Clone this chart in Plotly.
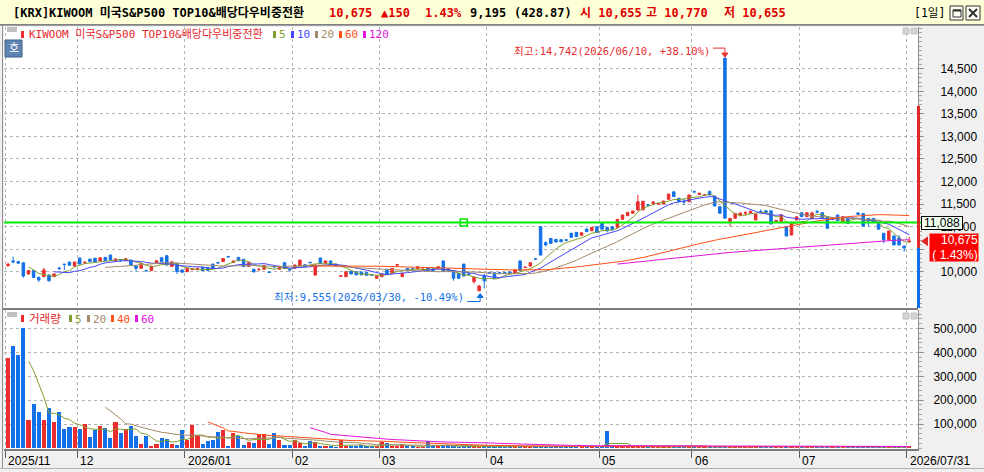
import pandas as pd
import plotly.graph_objects as go

# daily chart of KIWOOM 미국S&P500 TOP10&배당다우비중전환
market = "[KRX]"
name = "KIWOOM 미국S&P500 TOP10&배당다우비중전환"

month_labels = ["2025/11", "12", "2026/01", "02", "03", "04", "05", "06", "07"]
month_days = [14, 21, 21, 17, 21, 22, 18, 21, 22]
last_date = "2026/07/31"
high_date = "2026/06/10"
low_date = "2026/03/30"

opens = [
    10130, 10235, 10220, 10195, 9945, 10020, 9870, 9885, 9920, 9885,
    10075, 10165, 10210, 10120, 10300, 10190, 10275, 10295, 10235, 10315,
    10365, 10235, 10260, 10240, 10255, 10120, 10070, 10025, 10020, 10195,
    10305, 10350, 10110, 10180, 10035, 9995, 10040, 10050, 10090, 10090,
    10165, 10200, 10220, 10335, 10200, 10315, 10270, 10110, 10050, 10035,
    10050, 9990, 10110, 10050, 10195, 10045, 10070, 10120, 10150, 10205,
    9920, 10300, 10185, 10235, 10165, 9895, 9885, 10010, 9995, 9990,
    9980, 9925, 9850, 9885, 10050, 9975, 10140, 9885, 10070, 10065,
    10055, 10035, 10085, 10060, 10070, 10235, 10060, 10020, 9960, 10165,
    9950, 9775, 9575, 9900, 9980, 9975, 9975, 9980, 9990, 9960,
    10235, 10085, 10120, 10280, 10995, 10640, 10735, 10715, 10705, 10705,
    10850, 10870, 10805, 10945, 10905, 10995, 11070, 10980, 10995, 10980,
    11160, 11240, 11295, 11365, 11370, 11480, 11510, 11495, 11500, 11605,
    11770, 11625, 11555, 11550, 11775, 11710, 11690, 11775, 11675, 11440,
    14742, 11105, 11185, 11240, 11295, 11290, 11145, 11335, 11350, 11350,
    11110, 11110, 10995, 10810, 11145, 11305, 11220, 11180, 11330, 11305,
    11215, 11160, 11255, 11110, 11180, 11185, 11300, 11290, 11180, 11180,
    11070, 10850, 10700, 10790, 10750, 10565, 10655,
]
highs = [
    10195, 10330, 10235, 10200, 10030, 10025, 9885, 10080, 9945, 9955,
    10105, 10170, 10215, 10215, 10305, 10220, 10280, 10300, 10310, 10320,
    10370, 10285, 10280, 10290, 10260, 10145, 10185, 10035, 10125, 10245,
    10310, 10370, 10220, 10185, 10040, 10075, 10065, 10075, 10095, 10095,
    10170, 10215, 10295, 10340, 10240, 10320, 10275, 10200, 10055, 10080,
    10140, 9995, 10115, 10110, 10200, 10070, 10150, 10260, 10155, 10215,
    10150, 10305, 10240, 10240, 10170, 9915, 10000, 10015, 10000, 9995,
    9985, 9935, 9905, 9950, 10055, 10075, 10165, 9965, 10075, 10080,
    10110, 10060, 10090, 10065, 10110, 10240, 10065, 10025, 9965, 10170,
    9955, 9900, 9700, 9945, 9985, 9980, 9985, 9985, 9995, 10040,
    10240, 10105, 10200, 10290, 11000, 10670, 10740, 10720, 10715, 10715,
    10855, 10875, 10865, 10950, 10985, 11000, 11075, 10985, 11000, 11165,
    11260, 11320, 11350, 11700, 11570, 11490, 11560, 11520, 11570, 11725,
    11775, 11630, 11625, 11705, 11800, 11745, 11715, 11800, 11680, 11445,
    14742, 11185, 11295, 11305, 11340, 11345, 11280, 11380, 11355, 11355,
    11140, 11280, 11000, 11060, 11220, 11310, 11310, 11330, 11370, 11310,
    11220, 11205, 11260, 11220, 11185, 11200, 11320, 11295, 11185, 11185,
    11075, 10855, 10905, 10795, 10810, 10570, 10770,
]
lows = [
    10105, 10185, 10175, 9860, 9930, 9865, 9775, 9880, 9775, 9880,
    10035, 10035, 10135, 10115, 10160, 10180, 10215, 10205, 10230, 10235,
    10250, 10230, 10215, 10235, 10140, 10000, 10065, 10010, 10015, 10190,
    10215, 10140, 10105, 9945, 9980, 9990, 10035, 10045, 10015, 10015,
    10065, 10180, 10215, 10320, 10195, 10235, 10105, 10105, 9985, 10030,
    10045, 9970, 10095, 10045, 10065, 10000, 10065, 10115, 10100, 10190,
    9915, 10175, 10180, 10140, 10120, 9885, 9880, 9940, 9920, 9920,
    9910, 9910, 9845, 9880, 9940, 9970, 10125, 9880, 10015, 10050,
    10050, 10030, 10015, 10015, 10065, 9995, 10015, 9795, 9845, 9895,
    9935, 9735, 9555, 9625, 9960, 9845, 9955, 9960, 9960, 9955,
    10015, 10080, 10115, 10265, 10360, 10560, 10620, 10650, 10655, 10690,
    10755, 10770, 10800, 10880, 10900, 10860, 10935, 10870, 10920, 10975,
    11155, 11235, 11290, 11360, 11360, 11465, 11505, 11490, 11495, 11600,
    11660, 11545, 11480, 11545, 11740, 11700, 11680, 11695, 11450, 11290,
    11180, 11000, 11180, 11235, 11245, 11285, 11140, 11305, 11295, 11050,
    11105, 11105, 10780, 10805, 11140, 11215, 11215, 11175, 11300, 11185,
    10955, 11155, 11125, 11105, 11065, 11165, 11265, 11005, 11000, 11085,
    10935, 10630, 10695, 10585, 10585, 10440, 10655,
]
closes = [
    10160, 10215, 10185, 9900, 10020, 9870, 9810, 10035, 9795, 9945,
    10065, 10155, 10140, 10210, 10165, 10205, 10220, 10210, 10305, 10240,
    10255, 10280, 10250, 10285, 10145, 10070, 10180, 10015, 10120, 10240,
    10220, 10145, 10215, 10000, 9985, 10070, 10060, 10070, 10020, 10020,
    10070, 10190, 10290, 10325, 10235, 10240, 10110, 10195, 9990, 10045,
    10135, 9980, 10100, 10105, 10070, 10035, 10145, 10255, 10105, 10195,
    10145, 10180, 10235, 10145, 10125, 9905, 9995, 9945, 9925, 9925,
    9915, 9920, 9900, 9945, 9945, 10070, 10150, 9960, 10020, 10055,
    10105, 10055, 10020, 10020, 10105, 10000, 10020, 9850, 9850, 9900,
    9940, 9870, 9680, 9795, 9965, 9850, 9965, 9965, 9965, 10035,
    10020, 10095, 10195, 10275, 10365, 10590, 10625, 10655, 10660, 10695,
    10760, 10775, 10860, 10885, 10980, 10865, 10940, 10905, 10925, 11160,
    11255, 11315, 11345, 11550, 11560, 11475, 11545, 11505, 11565, 11720,
    11665, 11550, 11545, 11700, 11770, 11740, 11700, 11700, 11455, 11295,
    11185, 11180, 11290, 11300, 11305, 11340, 11275, 11325, 11300, 11055,
    11135, 11255, 10790, 11055, 11215, 11220, 11305, 11300, 11320, 11190,
    10960, 11200, 11130, 11215, 11070, 11175, 11270, 11010, 11145, 11090,
    10940, 10700, 10900, 10590, 10590, 10525, 10675,
]
volumes = [
    378000, 428000, 389000, 503000, 117000, 184000, 149000, 117000, 166000, 110000,
    152000, 79000, 89000, 89000, 79000, 100000, 46000, 75000, 92000, 82000,
    43000, 110000, 64000, 79000, 93000, 52000, 18000, 50000, 8000, 18000,
    43000, 39000, 18000, 14000, 75000, 33000, 96000, 52000, 17000, 29000,
    33000, 68000, 75000, 6000, 64000, 52000, 12000, 26000, 23000, 58000,
    58000, 17000, 64000, 33000, 12000, 12000, 35000, 20000, 8000, 30000,
    26000, 6000, 7000, 5000, 3000, 33000, 7000, 7000, 7000, 12000,
    7000, 7000, 5000, 26000, 22000, 5000, 7000, 15000, 5000, 7000,
    4000, 3000, 30000, 7000, 7000, 7000, 7000, 12000, 4000, 7000,
    5000, 7000, 4000, 7000, 5000, 7000, 5000, 4000, 5000, 7000,
    7000, 5000, 7000, 5000, 7000, 5000, 7000, 5000, 4000, 5000,
    7000, 5000, 7000, 5000, 7000, 5000, 7000, 71000, 5000, 7000,
    5000, 7000, 5000, 7000, 5000, 5000, 4000, 4000, 5000, 7000,
    5000, 5000, 4000, 8000, 4000, 5000, 4000, 5000, 7000, 5000,
    6000, 7000, 8000, 5000, 4000, 5000, 5000, 4000, 8000, 7000,
    4000, 5000, 8000, 7000, 5000, 5000, 4000, 5000, 4000, 5000,
    7000, 4000, 5000, 5000, 8000, 5000, 6000, 5000, 4000, 5000,
    5000, 7000, 5000, 5000, 4000, 2144, 9195,
]

price_ma_periods = [5, 10, 20, 60, 120]
price_ma_colors = ["#7F9F2F", "#4646FF", "#A48A6A", "#FF5014", "#E014DC"]
vol_ma_periods = [5, 20, 40, 60]
vol_ma_colors = ["#7F9F2F", "#A48A6A", "#FF5014", "#E014DC"]

h_line_price = 11088      # user drawn horizontal line
h_line_handle = 89        # bar index of its handle
limit_rate = 0.3

RED, BLUE = "#EB2D2D", "#1470E6"
MONO = "DejaVu Sans Mono, Noto Sans CJK KR"
NUM = "Liberation Sans, Arial"

W, H = 984, 472
ML, MR, MT, MB = 4, 66, 27, 23
PW, PH = W - ML - MR, H - MT - MB


def px(x):
    return (x - ML) / PW


def py(y):
    return (H - MB - y) / PH


n = len(closes)
xs = list(range(n))
up = [c > o for o, c in zip(opens, closes)]
close_s = pd.Series(closes, dtype=float)
vol_s = pd.Series(volumes, dtype=float)

last, prev = closes[-1], closes[-2]
chg = last - prev
chg_pct = chg / prev * 100
vol_ratio = volumes[-1] / volumes[-2] * 100
upper_limit = round(prev * (1 + limit_rate) / 10) * 10

hi_i = max(range(n), key=lambda k: highs[k])
lo_i = min(range(n), key=lambda k: lows[k])

month_start = [sum(month_days[:k]) for k in range(len(month_days))]
tick_pos = [s - 0.5 for s in month_start] + [n - 1.5]
tick_text = month_labels + [last_date]

fig = go.Figure()

fig.add_trace(go.Candlestick(
    x=xs, open=opens, high=highs, low=lows, close=closes,
    increasing=dict(line=dict(color=RED, width=1), fillcolor=RED),
    decreasing=dict(line=dict(color=BLUE, width=1), fillcolor=BLUE),
    whiskerwidth=0, hoverinfo="skip", showlegend=False))

for period, color in zip(price_ma_periods, price_ma_colors):
    fig.add_trace(go.Scatter(x=xs, y=close_s.rolling(period).mean(), mode="lines",
                             line=dict(color=color, width=1), hoverinfo="skip",
                             showlegend=False))

# handle of the drawn horizontal line
fig.add_trace(go.Scatter(x=[h_line_handle], y=[h_line_price], mode="markers",
                         marker=dict(symbol="square", size=7, color="white",
                                     line=dict(color="#00E000", width=1.5)),
                         hoverinfo="skip", showlegend=False))

fig.add_trace(go.Bar(x=xs, y=volumes, width=0.8, xaxis="x2", yaxis="y2",
                     marker=dict(color=[RED if u else BLUE for u in up], line_width=0),
                     hoverinfo="skip", showlegend=False))

for period, color in zip(vol_ma_periods, vol_ma_colors):
    fig.add_trace(go.Scatter(x=xs, y=vol_s.rolling(period).mean(), mode="lines",
                             xaxis="x2", yaxis="y2", line=dict(color=color, width=1),
                             hoverinfo="skip", showlegend=False))

xr = [-0.78, 177.7]
grid = dict(showgrid=True, gridcolor="#B4B4B4", griddash="dot", gridwidth=1)
xcommon = dict(range=xr, tickmode="array", tickvals=tick_pos, showticklabels=False,
               zeroline=False, fixedrange=True, **grid)

price_ticks = list(range(10000, 15000, 500))
# 10,500 sits fully behind the current price box on the original screen
price_text = ["" if v == 10500 else f"{v:,}" for v in price_ticks]
vol_ticks = list(range(100000, 600000, 100000))

fig.update_layout(
    width=W, height=H,
    margin=dict(l=ML, r=MR, t=MT, b=MB, pad=0),
    paper_bgcolor="#F0F0F0", plot_bgcolor="white",
    showlegend=False, bargap=0,
    xaxis=dict(anchor="y", domain=[0, 1], rangeslider=dict(visible=False), ticks="", **xcommon),
    xaxis2=dict(anchor="y2", domain=[0, 1], matches="x", ticks="outside", ticklen=7,
                tickcolor="#606060", showline=True, linecolor="#7A7A7A", linewidth=2,
                **xcommon),
    yaxis=dict(domain=[py(308), 1], range=[9189, 15433], side="right",
               tickmode="array", tickvals=price_ticks, ticktext=price_text,
               tickfont=dict(family=NUM, size=12, color="black"),
               ticks="outside", ticklen=5, tickcolor="#909090", ticklabelstandoff=14,
               minor=dict(tickmode="linear", tick0=0, dtick=100, ticks="outside",
                          ticklen=3, tickcolor="#A8A8A8", showgrid=False),
               showline=True, linecolor="#8C8C8C", linewidth=1, zeroline=False,
               fixedrange=True, **grid),
    yaxis2=dict(domain=[0, py(310)], range=[-4200, 577400], side="right",
                tickmode="array", tickvals=vol_ticks,
                ticktext=[f"{v:,}" for v in vol_ticks],
                tickfont=dict(family=NUM, size=12, color="black"),
                ticks="outside", ticklen=5, tickcolor="#909090", ticklabelstandoff=7,
                minor=dict(tickmode="linear", tick0=0, dtick=20000, ticks="outside",
                           ticklen=3, tickcolor="#A8A8A8", showgrid=False),
                showline=True, linecolor="#8C8C8C", linewidth=1, zeroline=False,
                fixedrange=True, **grid),
)

shapes = []


def rect(x0, y0, x1, y1, fill, line=None, width=1):
    shapes.append(dict(type="rect", xref="paper", yref="paper",
                       x0=px(x0), x1=px(x1), y0=py(y1), y1=py(y0),
                       fillcolor=fill, line=dict(color=line or fill, width=width if line else 0),
                       layer="above"))


def hline(x0, x1, y, color, width=1):
    shapes.append(dict(type="line", xref="paper", yref="paper", x0=px(x0), x1=px(x1),
                       y0=py(y), y1=py(y), line=dict(color=color, width=width), layer="above"))


# header bar
rect(0, 0, W, 24, "#FFFFD7")
hline(0, W, 24.5, "#808080")
# window buttons
rect(950, 6, 963, 20, "#FFFFF4", "#303030")
rect(953, 10, 961, 17, "#FFFFF4", "#303030")
hline(953, 961, 10.5, "#303030", 2)
rect(966, 6, 980, 20, "#FFFFF4", "#303030")
shapes.append(dict(type="path", xref="paper", yref="paper", layer="above",
                   path=f"M{px(969)},{py(9)} L{px(977)},{py(17)} M{px(977)},{py(9)} L{px(969)},{py(17)}",
                   line=dict(color="#303030", width=2)))
# frame
shapes.append(dict(type="line", xref="paper", yref="paper", x0=px(2.5), x1=px(2.5),
                   y0=py(468), y1=py(25), line=dict(color="#909090", width=1), layer="above"))
hline(3, 918, 309, "#7A7A7A", 2)
hline(0, W, 468.5, "#B0B0B0")
hline(0, W, 25.5, "#A0A0A0")

# panel buttons
for top in (28, 313):
    rect(903, top, 909, top + 6, "#D4D4D4", "#C4C4C4")
    rect(911, top, 917, top + 6, "#D4D4D4", "#C4C4C4")

# legend markers, price panel
rect(7, 27, 17, 32, "#C0C0C0")
rect(21, 31, 24, 38, RED)
for xm, color in zip([273, 291, 315, 339, 363], price_ma_colors):
    rect(xm, 31, xm + 3, 38, color)
# legend markers, volume panel
rect(7, 312, 17, 317, "#C0C0C0")
rect(21, 315, 24, 322, RED)
for xm, color in zip([69, 87, 111, 135], vol_ma_colors):
    rect(xm, 315, xm + 3, 322, color)
# "호" button
rect(5, 40, 22, 57, "#5F84B4", "#3E5E88")

# drawn horizontal line at 11,088
shapes.append(dict(type="line", xref="paper", yref="y", x0=px(4), x1=px(921),
                   y0=h_line_price, y1=h_line_price, line=dict(color="#00F000", width=2)))

# daily limit bar on the price axis: red up to the upper limit, blue below the previous close
shapes.append(dict(type="rect", xref="paper", yref="y", x0=px(917), x1=px(920),
                   y0=prev, y1=upper_limit, fillcolor="#E02828", line=dict(width=0), layer="above"))
shapes.append(dict(type="rect", xref="paper", yref="y", x0=px(917), x1=px(920),
                   y0=9189, y1=prev, fillcolor="#1470E6", line=dict(width=0), layer="above"))
# current price pointer
shapes.append(dict(type="path", xref="paper", yref="y", ysizemode="pixel", yanchor=last,
                   path=f"M{px(921)},0 L{px(928)},5 L{px(928)},-5 Z",
                   fillcolor="#E02828", line=dict(width=0), layer="above"))

# connectors of highest / lowest marks
shapes.append(dict(type="path", xref="x", yref="y", xsizemode="pixel", ysizemode="pixel",
                   xanchor=hi_i, yanchor=highs[hi_i], path="M-12,10 L0,10 L0,3",
                   line=dict(color=RED, width=1), layer="above"))
shapes.append(dict(type="path", xref="x", yref="y", xsizemode="pixel", ysizemode="pixel",
                   xanchor=hi_i, yanchor=highs[hi_i], path="M-3,5 L3,5 L0,1 Z",
                   fillcolor=RED, line=dict(color=RED, width=1), layer="above"))
shapes.append(dict(type="path", xref="x", yref="y", xsizemode="pixel", ysizemode="pixel",
                   xanchor=lo_i, yanchor=lows[lo_i], path="M-12,-10 L1,-10 L1,-4",
                   line=dict(color=BLUE, width=1), layer="above"))
shapes.append(dict(type="path", xref="x", yref="y", xsizemode="pixel", ysizemode="pixel",
                   xanchor=lo_i, yanchor=lows[lo_i], path="M-2,-6 L4,-6 L1,-2 Z",
                   fillcolor=BLUE, line=dict(color=BLUE, width=1), layer="above"))

fig.update_layout(shapes=shapes)

ann = []


def text(x, y, s, color="black", size=12, family=MONO, weight="normal", anchor="left"):
    ann.append(dict(xref="paper", yref="paper", x=px(x), y=py(y), text=s, showarrow=False,
                    xanchor=anchor, yanchor="middle",
                    font=dict(family=family, size=size, color=color, weight=weight)))


HR = "#E00000"
text(11, 13, market + name, weight="bold")
text(327, 13, f"{last:,}", HR, weight="bold")
text(379, 13, f"▲{chg:,}", HR, weight="bold")
text(423, 13, f"{chg_pct:.2f}%", HR, weight="bold")
text(468, 13, f"{volumes[-1]:,}", weight="bold")
text(512, 13, f"({vol_ratio:.2f})", weight="bold")
text(578, 13, f"시 {opens[-1]:,}", HR, weight="bold")
text(644, 13, f"고 {highs[-1]:,}", HR, weight="bold")
text(722, 13, f"저 {lows[-1]:,}", HR, weight="bold")
text(947, 13, "[1일]", size=11.5, anchor="right")

LR = "#E8282D"
text(27, 34.5, name, LR, size=11)
for xm, period, color in zip([277, 295, 319, 343, 367], price_ma_periods, price_ma_colors):
    text(xm, 34.5, str(period), color, size=11)
text(27, 319, "거래량", LR, size=11.5)
for xm, period, color in zip([73, 91, 115, 139], vol_ma_periods, vol_ma_colors):
    text(xm, 319, str(period), color, size=11)
text(13.5, 48.5, "호", "white", size=11, anchor="center")

# x axis labels, left aligned at their ticks
for pos, lab in zip(tick_pos, tick_text):
    ann.append(dict(xref="x2", yref="paper", x=pos, y=py(461), text=lab, showarrow=False,
                    xanchor="left", yanchor="middle", xshift=1,
                    font=dict(family=NUM, size=12, color="black")))

# highest / lowest marks
hi_pct = (highs[hi_i] / last - 1) * 100
lo_pct = (lows[lo_i] / last - 1) * 100
ann.append(dict(xref="x", yref="y", x=hi_i, y=highs[hi_i], showarrow=False,
                text=f"최고:{highs[hi_i]:,}({high_date}, {hi_pct:+.2f}%)",
                xanchor="right", yanchor="middle", xshift=-13, yshift=7,
                font=dict(family=MONO, size=10.5, color=RED)))
ann.append(dict(xref="x", yref="y", x=lo_i, y=lows[lo_i], showarrow=False,
                text=f"최저:{lows[lo_i]:,}({low_date}, {lo_pct:+.2f}%)",
                xanchor="right", yanchor="middle", xshift=-13, yshift=-5,
                font=dict(family=MONO, size=10.5, color=BLUE)))

# price boxes on the axis
ann.append(dict(xref="paper", yref="y", x=px(921), y=h_line_price, text=f"{h_line_price:,}",
                showarrow=False, xanchor="left", yanchor="middle", width=40, height=12,
                bgcolor="#F0FFF0", bordercolor="black", borderwidth=1, borderpad=0,
                font=dict(family=NUM, size=12, color="black")))
ann.append(dict(xref="paper", yref="y", x=px(929), y=last, yshift=8, showarrow=False,
                text=f"{last:,}<br>( {chg_pct:.2f}%)", align="right",
                xanchor="left", yanchor="top", width=48, height=27,
                bgcolor="#FF0000", borderpad=0,
                font=dict(family=NUM, size=12, color="white")))

fig.update_layout(annotations=ann)

fig.write_html("out.html", config={"displayModeBar": False},
               post_script="document.body.style.margin='0';")
